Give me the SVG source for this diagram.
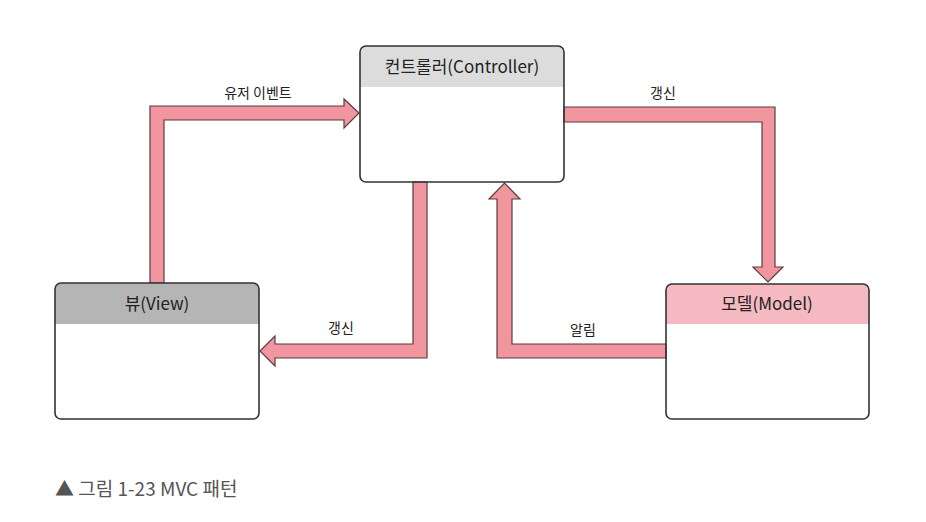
<svg xmlns="http://www.w3.org/2000/svg" width="926" height="522" viewBox="0 0 926 522">
<style>
.arrow{fill:#f1959f;stroke:#5b3b3e;stroke-width:1.2;stroke-linejoin:miter}
.box{fill:none;stroke:#333;stroke-width:1.6}
.title{font-family:"Noto Sans CJK KR","Noto Sans",sans-serif;font-size:17px;fill:#222;text-anchor:middle}
.lbl{font-family:"Noto Sans CJK KR","Noto Sans",sans-serif;font-size:14px;fill:#222;text-anchor:middle}
.cap{font-family:"Noto Sans CJK KR","Noto Sans",sans-serif;font-size:19px;fill:#555}
</style>
<rect width="926" height="522" fill="#fff"/>
<g id="connectors">
<polygon class="arrow" points="150,283 150,106 344,106 344,99 359,113 344,128 344,120 164,120 164,283"/>
<polygon class="arrow" points="413,182 427,182 427,358 275,358 275,366 260,351 275,336 275,344 413,344"/>
<polygon class="arrow" points="666,344 666,358 497,358 497,199 489,199 504.5,183 520,199 512,199 512,344"/>
<polygon class="arrow" points="564,107 775,107 775,267 783,267 768,282 753,267 762,267 762,122 564,122"/>
<text class="lbl" x="258" y="98">유저 이벤트</text>
<text class="lbl" x="663" y="98">갱신</text>
<text class="lbl" x="341" y="333">갱신</text>
<text class="lbl" x="583" y="335">알림</text>
</g>
<g id="controller">
<path d="M360,87 V52 a6,6 0 0 1 6,-6 H558 a6,6 0 0 1 6,6 V87 Z" fill="#dcdcdc"/>
<rect class="box" x="360" y="46" width="204" height="136" rx="6"/>
<text class="title" x="462" y="73">컨트롤러(Controller)</text>
</g>
<g id="view">
<path d="M55,324 V289 a6,6 0 0 1 6,-6 H253 a6,6 0 0 1 6,6 V324 Z" fill="#b5b5b5"/>
<rect class="box" x="55" y="283" width="204" height="136" rx="6"/>
<text class="title" x="157" y="310">뷰(View)</text>
</g>
<g id="model">
<path d="M666,324 V290 a6,6 0 0 1 6,-6 H863 a6,6 0 0 1 6,6 V324 Z" fill="#f4b9c1"/>
<rect class="box" x="666" y="284" width="203" height="135" rx="6"/>
<text class="title" x="767" y="310">모델(Model)</text>
</g>
<text class="cap" x="55" y="496">▲ 그림 1-23 MVC 패턴</text>
</svg>
